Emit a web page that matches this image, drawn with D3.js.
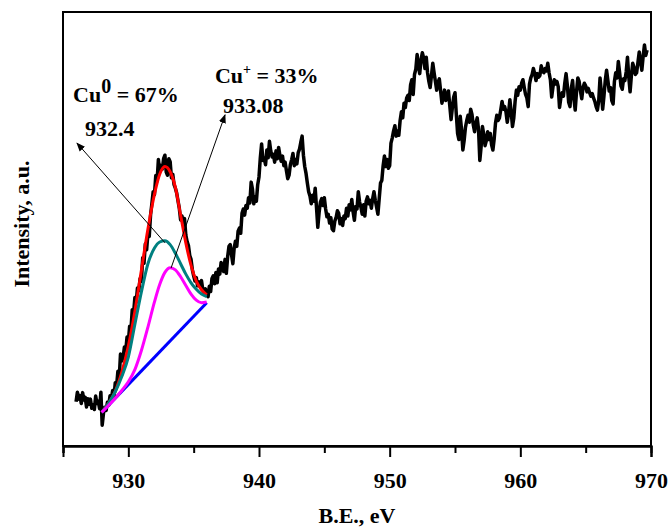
<!DOCTYPE html>
<html>
<head>
<meta charset="utf-8">
<script src="https://cdn.jsdelivr.net/npm/d3@7"></script>
<style>
	body { margin: 0; background: #fff; }
	svg text { font-family: "Liberation Serif", "Times New Roman", serif; font-weight: bold; }
</style>
</head>
<body>
<svg id="plot" width="669" height="531"></svg>
<script>

// Cu 2p3/2 spectrum, one row per eV (0.1 eV step from 926.0)
const BE_START = 926.0;
const BE_STEP = 0.1;
const INTENSITY = [
	10.2,12.4,10.8,11.6,9.8,12.3,10.6,11.2,9.0,10.9,
	9.6,10.8,8.7,9.5,8.4,11.5,9.8,10.3,8.6,12.4,
	4.8,7.6,8.9,8.2,10.1,9.4,11.6,10.8,12.8,11.2,
	14.6,13.8,17.2,15.4,21.2,19.6,20.4,22.8,21.9,25.1,
	24.0,27.6,26.8,31.4,30.5,34.2,33.1,36.4,35.8,38.6,
	38.0,43.4,42.1,46.6,45.2,49.0,48.3,53.2,55.8,58.6,
	57.9,62.3,61.0,66.0,63.4,64.6,63.8,66.2,67.0,63.1,
	62.4,66.2,65.5,61.8,62.6,60.2,59.4,58.3,56.5,54.8,
	52.1,53.0,51.6,52.4,48.6,47.1,46.2,43.9,43.0,40.6,
	39.2,38.0,38.8,36.9,37.8,37.2,38.1,36.0,35.4,36.2,
	35.0,34.4,36.8,35.6,38.6,39.2,37.4,40.0,37.6,40.8,
	39.6,42.3,41.0,40.2,43.0,39.8,43.6,46.0,46.4,44.0,
	42.0,45.6,47.2,46.0,49.5,50.2,49.0,53.6,54.6,53.2,
	55.4,54.8,57.2,56.0,60.8,59.2,55.8,57.4,56.4,60.2,
	62.0,66.4,69.6,65.8,66.4,64.8,68.2,66.4,70.2,68.0,
	66.6,67.2,65.4,68.0,66.2,68.8,67.0,65.6,66.8,64.6,
	65.4,63.4,61.6,62.4,64.8,66.0,67.4,64.6,66.0,65.0,
	67.6,68.4,70.0,71.4,67.0,64.4,62.8,60.6,58.6,57.6,
	55.8,57.8,56.4,59.4,55.0,50.4,53.8,56.2,57.0,55.4,
	57.2,54.6,52.8,53.4,51.4,52.6,50.0,49.6,51.8,52.6,
	54.2,53.6,51.2,52.4,50.8,53.0,52.4,54.8,53.0,55.6,
	54.4,56.8,54.0,52.0,55.2,54.6,58.6,56.2,55.0,53.4,
	55.6,53.0,56.4,57.4,55.8,56.6,54.8,57.0,58.6,56.6,
	55.0,53.4,57.0,60.6,61.2,64.6,66.8,64.4,66.0,64.0,
	64.6,69.8,71.0,72.6,73.8,71.4,72.6,71.6,75.0,77.0,
	75.6,79.0,78.0,80.2,80.8,79.6,83.2,84.4,81.0,85.6,
	86.8,90.2,87.6,85.8,89.0,90.6,89.4,87.0,89.6,86.0,
	84.0,82.6,85.4,88.2,86.0,84.0,82.0,83.8,84.6,81.8,
	79.0,80.4,82.0,79.6,80.6,81.8,78.4,75.2,78.0,80.4,
	81.4,76.4,72.0,70.6,76.0,73.0,68.2,70.4,73.4,75.0,
	76.2,74.6,77.6,76.4,74.0,72.4,74.4,75.6,73.0,65.8,
	69.0,73.6,71.8,69.2,70.4,72.4,70.6,72.0,69.4,68.2,
	70.8,74.4,76.2,75.0,75.6,77.4,79.4,77.6,78.2,77.0,
	74.6,76.8,79.8,77.0,73.6,75.6,79.4,82.0,80.8,82.8,
	82.0,83.6,84.4,82.6,81.0,80.2,78.2,83.4,84.8,85.6,
	87.0,85.8,84.2,85.8,85.0,85.4,87.6,86.4,86.0,87.0,
	86.4,88.2,86.0,84.4,80.4,82.8,84.4,83.4,84.0,82.8,
	78.0,80.2,81.4,80.6,83.6,85.8,83.0,79.2,78.2,82.4,
	84.2,80.0,77.4,81.6,84.8,84.0,81.8,80.0,82.6,83.6,
	83.0,81.6,82.4,81.4,80.6,81.2,80.2,79.4,78.2,77.4,
	79.6,84.8,81.6,77.6,80.6,84.2,86.6,84.2,81.8,82.6,
	79.6,78.8,84.0,86.0,84.8,88.6,86.0,83.0,82.2,84.6,
	84.2,86.2,89.6,85.0,81.6,85.4,88.2,87.2,85.6,86.0,
	88.4,90.8,88.6,86.6,89.8,92.4,90.0,91.2
];

// peak fit (envelope, Cu0, Cu+)
const FIT_BE =   [927.96,928.5,929.0,929.5,930.0,930.5,931.0,931.5,932.0,932.4,932.8,933.2,933.6,934.0,934.4,934.8,935.2,935.6,936.0];
const FIT_SUM =  [7.75, 9.9, 12.6, 17.0, 23.0, 31.0, 40.5, 50.0, 58.0, 62.6, 64.4, 63.2, 59.6, 53.2, 46.8, 41.6, 38.0, 36.0, 34.8];
const FIT_CU0 =  [7.75, 9.9, 12.5, 16.0, 20.5, 28.0, 35.5, 42.0, 45.6, 47.0, 47.3, 46.4, 44.4, 42.0, 39.6, 37.6, 36.1, 35.0, 34.4];
const FIT_CU1 =  [7.75, 9.4, 11.0, 12.8, 14.8, 17.6, 22.0, 27.4, 33.2, 37.2, 40.0, 41.1, 40.6, 39.0, 37.0, 35.0, 33.6, 33.0, 33.2];
const BASE_BE = [927.96, 936.0];
const BASE = [7.75, 33.0];

const X_DOMAIN = [925, 970];
const X_MAJOR = [930, 940, 950, 960, 970];
const X_MINOR = [925, 935, 945, 955, 965];

const box = { left: 63, right: 651, top: 12, bottom: 446 };

const svg = d3.select("#plot");

const x = d3.scaleLinear().domain(X_DOMAIN).range([box.left, box.right]);
const y = d3.scaleLinear().domain([0, 100]).range([box.bottom, box.top]);

const spectrum = INTENSITY.map((v, i) => ({ e: BE_START + i * BE_STEP, v: v }));
const zip = (xs, ys) => xs.map((e, i) => ({ e: e, v: ys[i] }));

const line = d3.line().x(d => x(d.e)).y(d => y(d.v));
const smooth = d3.line().x(d => x(d.e)).y(d => y(d.v)).curve(d3.curveMonotoneX);

// arrow head
svg.append("defs").append("marker")
	.attr("id", "head")
	.attr("viewBox", "0 0 10 10")
	.attr("refX", 9).attr("refY", 5)
	.attr("markerWidth", 9).attr("markerHeight", 9)
	.attr("markerUnits", "userSpaceOnUse")
	.attr("orient", "auto")
	.append("path").attr("d", "M0,1 L10,5 L0,9 Z").attr("fill", "#000");

// spectrum
svg.append("path")
	.datum(spectrum)
	.attr("d", line)
	.attr("fill", "none")
	.attr("stroke", "#000")
	.attr("stroke-width", 3.5)
	.attr("stroke-linejoin", "round");

// fit
svg.append("path").datum(zip(BASE_BE, BASE)).attr("d", line)
	.attr("fill", "none").attr("stroke", "#0000ff").attr("stroke-width", 3);
svg.append("path").datum(zip(FIT_BE, FIT_SUM)).attr("d", smooth)
	.attr("fill", "none").attr("stroke", "#ff0000").attr("stroke-width", 3);
svg.append("path").datum(zip(FIT_BE, FIT_CU0)).attr("d", smooth)
	.attr("fill", "none").attr("stroke", "#008080").attr("stroke-width", 3);
svg.append("path").datum(zip(FIT_BE, FIT_CU1)).attr("d", smooth)
	.attr("fill", "none").attr("stroke", "#ff00ff").attr("stroke-width", 3);

// annotation arrows (from component peak to label)
const arrows = [
	{ from: [932.81, 46.8], to: [926.07, 69.8] },
	{ from: [933.27, 41.0], to: [937.4, 76.3] }
];
svg.append("g").selectAll("line")
	.data(arrows)
	.enter().append("line")
	.attr("x1", d => x(d.from[0])).attr("y1", d => y(d.from[1]))
	.attr("x2", d => x(d.to[0])).attr("y2", d => y(d.to[1]))
	.attr("stroke", "#000").attr("stroke-width", 1)
	.attr("marker-end", "url(#head)");

// labels
var t1 = svg.append("text").attr("x", x(925.77)).attr("y", y(79.3)).style("font-size", "22px");
t1.append("tspan").text("Cu");
t1.append("tspan").attr("dy", -9).style("font-size", "20px").text("0");
t1.append("tspan").attr("dy", 9).text(" = 67%");

svg.append("text").attr("x", x(926.68)).attr("y", y(71.4)).style("font-size", "22px").text("932.4");

var t2 = svg.append("text").attr("x", x(936.63)).attr("y", y(83.6)).style("font-size", "22px");
t2.append("tspan").text("Cu");
t2.append("tspan").attr("dy", -9).style("font-size", "14px").text("+");
t2.append("tspan").attr("dy", 9).text(" = 33%");

svg.append("text").attr("x", x(937.24)).attr("y", y(76.7)).style("font-size", "22px").text("933.08");

// frame
svg.append("rect")
	.attr("x", box.left).attr("y", box.top)
	.attr("width", box.right - box.left).attr("height", box.bottom - box.top)
	.attr("fill", "none").attr("stroke", "#000").attr("stroke-width", 2);

// x axis: minor then major ticks
var minor = svg.append("g")
	.attr("transform", "translate(0," + box.bottom + ")")
	.call(d3.axisBottom(x).tickValues(X_MINOR).tickSize(7).tickFormat(""));
var major = svg.append("g")
	.attr("transform", "translate(0," + box.bottom + ")")
	.call(d3.axisBottom(x).tickValues(X_MAJOR).tickSize(11).tickPadding(15).tickFormat(d3.format("d")));
[minor, major].forEach(g => {
	g.select(".domain").attr("stroke-width", 2);
	g.selectAll(".tick line").attr("stroke-width", 2);
});
major.selectAll(".tick text")
	.style("font-size", "22px")
	.style("font-family", "'Liberation Serif', 'Times New Roman', serif")
	.style("font-weight", "bold")
	.attr("fill", "#000");

// axis titles
svg.append("text")
	.attr("x", (box.left + box.right) / 2).attr("y", 523)
	.attr("text-anchor", "middle")
	.style("font-size", "22px")
	.text("B.E., eV");

svg.append("text")
	.attr("transform", "translate(29,224) rotate(-90)")
	.attr("text-anchor", "middle")
	.style("font-size", "22px")
	.text("Intensity, a.u.");

</script>
</body>
</html>
